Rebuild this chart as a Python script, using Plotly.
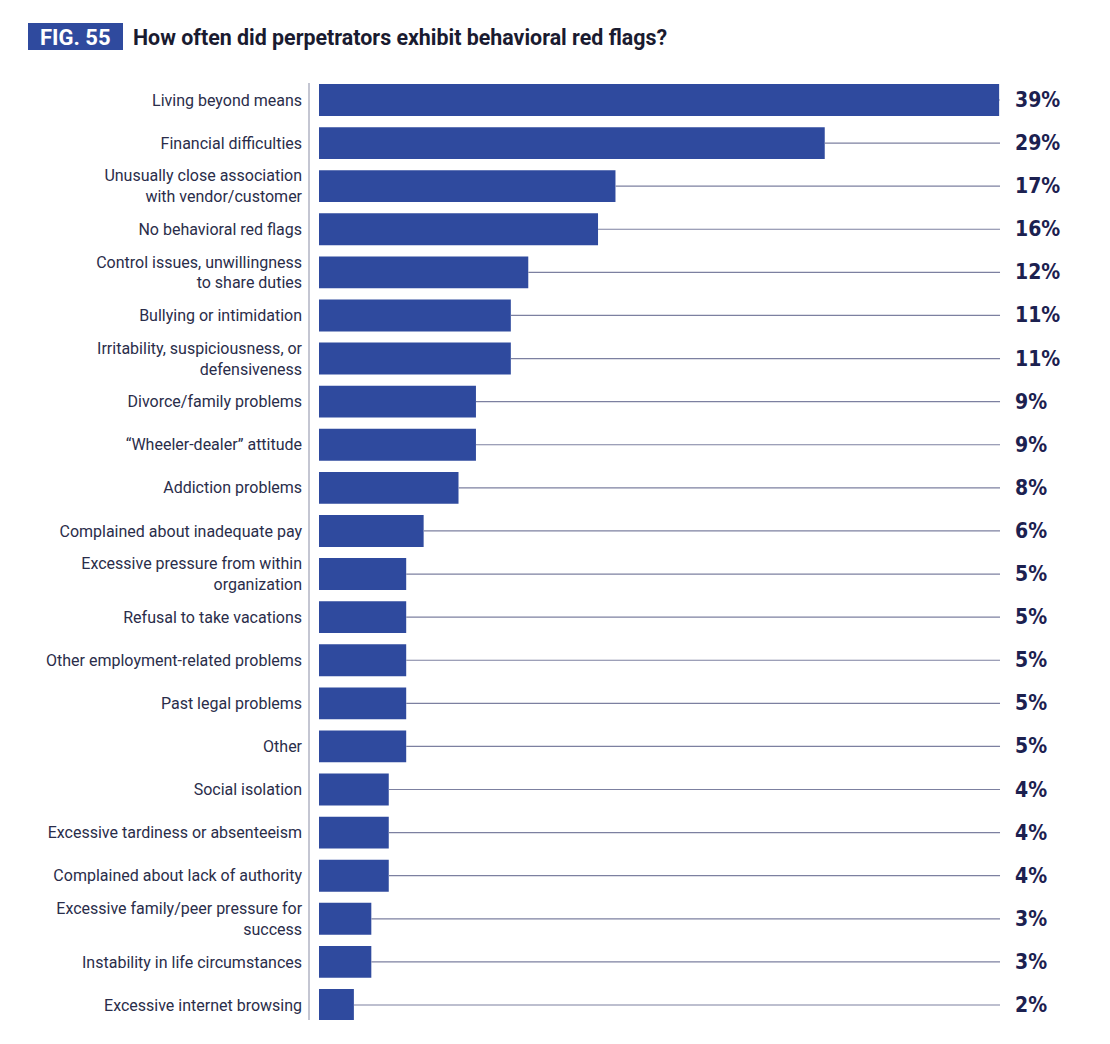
import plotly.graph_objects as go

categories = [
    "Living beyond means",
    "Financial difficulties",
    "Unusually close association<br>with vendor/customer",
    "No behavioral red flags",
    "Control issues, unwillingness<br>to share duties",
    "Bullying or intimidation",
    "Irritability, suspiciousness, or<br>defensiveness",
    "Divorce/family problems",
    "“Wheeler-dealer” attitude",
    "Addiction problems",
    "Complained about inadequate pay",
    "Excessive pressure from within<br>organization",
    "Refusal to take vacations",
    "Other employment-related problems",
    "Past legal problems",
    "Other",
    "Social isolation",
    "Excessive tardiness or absenteeism",
    "Complained about lack of authority",
    "Excessive family/peer pressure for<br>success",
    "Instability in life circumstances",
    "Excessive internet browsing",
]
values = [39, 29, 17, 16, 12, 11, 11, 9, 9, 8, 6, 5, 5, 5, 5, 5, 4, 4, 4, 3, 3, 2]
value_labels = [f"{v}%" for v in values]

BAR = "#2f4a9e"
NAVY = "#1c2150"
GRID = "#7c80a0"

W, H = 1110, 1044
OFF = 8  # page body offset
L, R, T, B = 310 - OFF, W - (1060 - OFF), 83 - OFF, H - (1020 - OFF)
PW, PH = W - L - R, H - T - B


def px(xpage):
    return (xpage - OFF - L) / PW


def py(ypage):
    return (H - B - (ypage - OFF)) / PH


vmax = max(values)
line_end = vmax + 0.05

fig = go.Figure()

for c, v in zip(categories, values):
    fig.add_trace(go.Scatter(
        x=[v, line_end], y=[c, c], mode="lines",
        line=dict(color=GRID, width=1.2), hoverinfo="skip", showlegend=False,
    ))

fig.add_trace(go.Bar(
    x=values, y=categories, orientation="h",
    marker=dict(color=BAR, line=dict(width=0)), width=0.74,
    showlegend=False,
))

for c, t in zip(categories, value_labels):
    fig.add_annotation(
        x=vmax + 0.8, y=c, text=f"<b>{t}</b>", showarrow=False,
        xanchor="left", yanchor="middle",
        font=dict(family="DejaVu Sans Condensed", size=21, color=NAVY),
    )

fig.update_layout(
    width=W, height=H,
    margin=dict(l=L, r=R, t=T, b=B),
    plot_bgcolor="white", paper_bgcolor="white",
    xaxis=dict(range=[-0.516, 42.49], visible=False, fixedrange=True),
    yaxis=dict(
        categoryorder="array", categoryarray=categories,
        range=[21.348, -0.394],
        showline=True, linecolor="#c4c6d2", linewidth=1.5,
        showgrid=False, zeroline=False,
        ticks="outside", ticklen=0, ticklabelstandoff=3,
        tickfont=dict(family="Roboto", size=16, color="#2a2d4a"),
    ),
)

# header
fig.add_shape(
    type="rect", xref="paper", yref="paper",
    x0=px(28), x1=px(123), y0=py(50), y1=py(23),
    fillcolor=BAR, line=dict(width=0),
)
fig.add_annotation(
    xref="paper", yref="paper", x=px(75.5), y=py(37),
    text="<b>FIG. 55</b>", showarrow=False, xanchor="center", yanchor="middle",
    font=dict(family="Roboto", size=22, color="white"),
)
fig.add_annotation(
    xref="paper", yref="paper", x=px(131), y=py(37),
    text="<b>How often did perpetrators exhibit behavioral red flags?</b>",
    showarrow=False, xanchor="left", yanchor="middle",
    font=dict(family="Roboto", size=21.4, color="#1a1b30"),
)

fig.write_html("out.html")
